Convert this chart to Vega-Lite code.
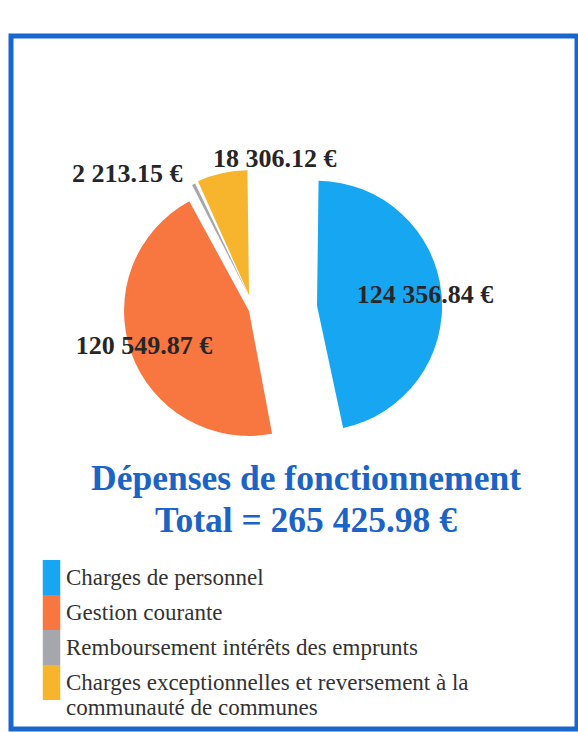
{
  "$schema": "https://vega.github.io/schema/vega-lite/v6.json",
  "width": 566,
  "height": 693,
  "autosize": {"type": "none"},
  "padding": {"left": 11, "top": 36, "right": 1, "bottom": 3},
  "background": "white",
  "view": {"stroke": "#1a66cf", "strokeWidth": 5, "fill": "white"},
  "config": {
    "view": {"stroke": "#1a66cf", "strokeWidth": 5},
    "font": "Liberation Serif"
  },
  "title": {
    "text": ["Dépenses de fonctionnement", "Total = 265 425.98 €"],
    "anchor": "middle",
    "orient": "top",
    "offset": -531,
    "baseline": "alphabetic",
    "lineHeight": 42,
    "font": "Liberation Serif",
    "fontSize": 35.5,
    "fontWeight": "bold",
    "color": "#1b63c6",
    "dx": 12
  },
  "data": {
    "values": [
      {"poste": "Charges de personnel", "montant": 124356.84, "libelle": "124 356.84 €", "ordre": 1},
      {"poste": "Gestion courante", "montant": 120549.87, "libelle": "120 549.87 €", "ordre": 2},
      {"poste": "Remboursement intérêts des emprunts", "montant": 2213.15, "libelle": "2 213.15 €", "ordre": 3},
      {"poste": "Charges exceptionnelles et reversement à la communauté de communes", "montant": 18306.12, "libelle": "18 306.12 €", "ordre": 4}
    ]
  },
  "encoding": {
    "theta": {"field": "montant", "type": "quantitative", "stack": true},
    "order": {"field": "ordre", "type": "quantitative"}
  },
  "layer": [
    {
      "mark": {
        "type": "arc",
        "radius": 125,
        "padAngle": 0.025,
        "x": {"expr": "width*0.4806"},
        "y": {"expr": "height*0.391"},
        "xOffset": {"expr": "sin(scale('theta', (datum.montant_start+datum.montant_end)/2)) > 0 ? 34 : -34"},
        "yOffset": {"expr": "-12*cos(scale('theta', (datum.montant_start+datum.montant_end)/2))"}
      },
      "encoding": {
        "color": {
          "field": "poste",
          "type": "nominal",
          "sort": null,
          "scale": {
            "domain": ["Charges de personnel", "Gestion courante", "Remboursement intérêts des emprunts", "Charges exceptionnelles et reversement à la communauté de communes"],
            "range": ["#16a6f2", "#f8763f", "#a6a6ad", "#f7b52e"]
          },
          "legend": {
            "orient": "none",
            "legendX": 23,
            "legendY": 524,
            "title": null,
            "symbolType": "M-0.5,-1H0.5V1H-0.5Z",
            "symbolSize": 1225,
            "symbolStrokeWidth": 0,
            "symbolOpacity": 1,
            "labelFont": "Liberation Serif",
            "labelFontSize": 23,
            "labelColor": "#333333",
            "labelLimit": 600,
            "rowPadding": 0,
            "labelOffset": -3,
            "labelExpr": "length(datum.label) > 45 ? [substring(datum.label, 0, 43), substring(datum.label, 44)] : datum.label"
          }
        }
      }
    },
    {
      "mark": {
        "type": "text",
        "radius": {"expr": "105 + 35*max(0, cos(scale('theta', (datum.montant_start+datum.montant_end)/2)))"},
        "x": {"expr": "width*0.4806"},
        "y": {"expr": "height*0.391"},
        "xOffset": {"expr": "sin(scale('theta', (datum.montant_start+datum.montant_end)/2)) > 0 ? 34 : -40"},
        "yOffset": {"expr": "-12*cos(scale('theta', (datum.montant_start+datum.montant_end)/2))"},
        "align": {"expr": "cos(scale('theta', (datum.montant_start+datum.montant_end)/2)) > 0.9 ? 'left' : (cos(scale('theta', (datum.montant_start+datum.montant_end)/2)) > 0.5 ? 'right' : 'center')"},
        "font": "Liberation Serif",
        "fontSize": 26,
        "fontWeight": "bold",
        "fill": "#262626"
      },
      "encoding": {
        "text": {"field": "libelle", "type": "nominal"}
      }
    }
  ]
}
